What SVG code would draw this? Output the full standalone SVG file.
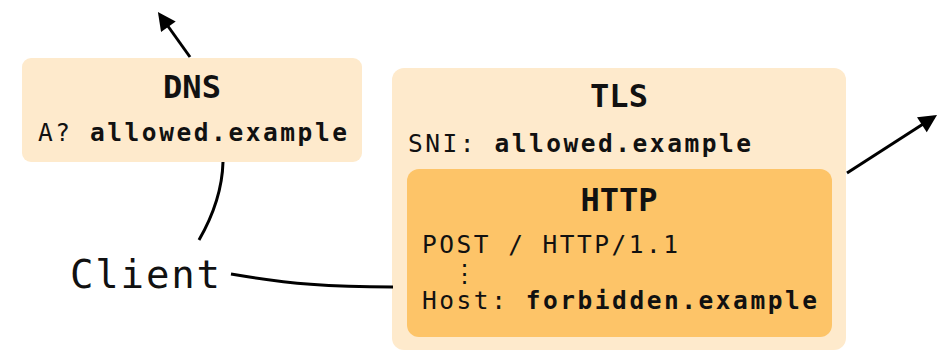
<svg xmlns="http://www.w3.org/2000/svg" width="940" height="354" viewBox="0 0 940 354">
<defs>
<style>
.outer{fill:#feeacc}
.inner{fill:#fdc468}
.t{font-family:"DejaVu Sans Mono","Liberation Mono",monospace;fill:#111}
.title{font-size:32px;font-weight:bold;text-anchor:middle}
.body{font-size:24.5px}
.b{font-weight:bold}
.client{font-size:39px}
.conn{fill:none;stroke:#000;stroke-width:3}
</style>
<marker id="ah" viewBox="0 0 10 10" refX="8" refY="5" markerWidth="7" markerHeight="6" orient="auto" markerUnits="strokeWidth">
<path d="M0,0 L10,5 L0,10 z" fill="#000"/>
</marker>
</defs>
<g id="dns">
<rect class="outer" x="22" y="58" width="340" height="104" rx="9"/>
<text class="t title" x="192" y="98">DNS</text>
<text class="t body" x="38" y="141" textLength="309" lengthAdjust="spacing">A? <tspan class="b">allowed.example</tspan></text>
</g>
<g id="tls">
<rect class="outer" x="392" y="68" width="454" height="282" rx="12"/>
<text class="t title" x="619" y="107">TLS</text>
<text class="t body" x="408" y="152" textLength="343" lengthAdjust="spacing">SNI: <tspan class="b">allowed.example</tspan></text>
</g>
<g id="http">
<rect class="inner" x="407" y="169" width="425" height="168" rx="12"/>
<text class="t title" x="619" y="211">HTTP</text>
<text class="t body" x="422" y="253" textLength="256" lengthAdjust="spacing">POST / HTTP/1.1</text>
<text class="t body" x="464" y="282" text-anchor="middle">⋮</text>
<text class="t body" x="422" y="309" textLength="395" lengthAdjust="spacing">Host: <tspan class="b">forbidden.example</tspan></text>
</g>
<g id="client">
<text class="t client" x="70" y="288" textLength="150" lengthAdjust="spacing">Client</text>
</g>
<g id="connectors">
<path class="conn" d="M190,57 L160,15" marker-end="url(#ah)"/>
<path class="conn" d="M199,240 Q222,200 223,162"/>
<path class="conn" d="M231,274 C290,284 330,287 393,287"/>
<path class="conn" d="M847,173 L934,117" marker-end="url(#ah)"/>
</g>
</svg>
